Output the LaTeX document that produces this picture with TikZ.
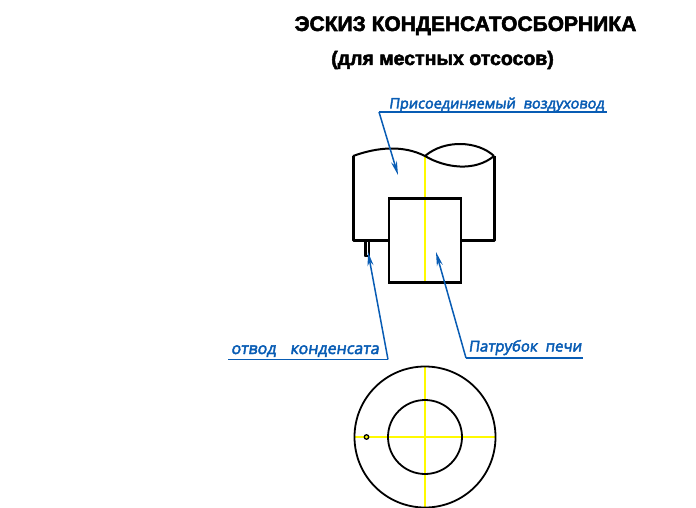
\documentclass[tikz,border=0pt]{standalone}
\usepackage{fontspec}
\setmainfont{Liberation Sans}
\newfontfamily\notefont[FakeBold=3,FakeSlant=0.14]{Open Sans}
\newfontfamily\headfont[FakeBold=2.5]{Liberation Sans Bold}
\usetikzlibrary{arrows.meta}
\definecolor{noteblue}{RGB}{8,92,180}
\definecolor{axisyellow}{RGB}{255,250,0}
\newcommand{\notegap}{\hspace{8pt}}
\tikzset{
    body/.style={draw=black,line width=2pt,line join=round},
    thick body/.style={draw=black,line width=3pt,line join=round},
    axis line/.style={draw=axisyellow,line width=1.3pt},
    leader/.style={draw=noteblue,line width=1.5pt},
    pointer/.style={draw=noteblue,line width=1.5pt,-{Stealth[open,length=14pt,width=6pt]}},
    note/.style={text=noteblue,font=\notefont\fontsize{14.5}{16}\selectfont,inner sep=0pt,anchor=base},
    heading/.style={text=black,font=\headfont\fontsize{21}{23}\selectfont,inner sep=0pt,anchor=base}
}
\begin{document}
\begin{tikzpicture}[x=1pt,y=-1pt]
    \useasboundingbox (0,0) rectangle (696,508);

    \node[heading] (title) at (465.5,31) {ЭСКИЗ КОНДЕНСАТОСБОРНИКА};
    \node[heading,font=\headfont\fontsize{19.5}{21}\selectfont] (subtitle) at (442.5,65) {(для местных отсосов)};

    % axes
    \draw[axis line] (425,156) -- (425,283);
    \draw[axis line] (425,367) -- (425,507);
    \draw[axis line] (354,437) -- (495,437);

    % duct
    \coordinate (ductTL) at (353,156);
    \coordinate (ductTR) at (494,156);
    \coordinate (ductM) at (425,156);
    \draw[thick body] (ductTL) -- (353,240.5) -- (388,240.5);
    \draw[thick body] (461,240.5) -- (494,240.5) -- (ductTR);
    \draw[body] (ductTL) .. controls (378,147) and (403,145) .. (ductM);
    \draw[body] (ductM) .. controls (445,168) and (475,172) .. (ductTR);
    \draw[body] (ductM) .. controls (445,139) and (478,141) .. (ductTR);

    % nozzle
    \node (nozzle) at (425,240.5) [draw=black,line width=2.6pt,minimum width=72pt,minimum height=84.5pt,inner sep=0pt] {};

    % drain
    \draw[thick body,line cap=round] (365,241) -- (365,255.5);
    \draw[body,line cap=round] (365,255.5) -- (368.5,255.5) -- (368.5,241);

    % plan
    \node (outer) at (425,437) [circle,draw=black,line width=1.8pt,minimum size=141pt,inner sep=0pt] {};
    \node (inner) at (425,437) [circle,draw=black,line width=1.8pt,minimum size=74pt,inner sep=0pt] {};
    \node (hole) at (366.5,437) [circle,draw=black,line width=1.3pt,minimum size=4.5pt,inner sep=0pt] {};

    % notes
    \node[note] (ductnote) at (496.5,108.5) {Присоединяемый\notegap воздуховод};
    \node[note,font=\notefont\fontsize{16}{18}\selectfont] (drainnote) at (305,354) {отвод\hspace{10pt} конденсата};
    \node[note,font=\notefont\fontsize{15}{17}\selectfont] (nozzlenote) at (525,351.5) {Патрубок\notegap печи};

    \coordinate (ductA) at (379,112);
    \coordinate (ductB) at (607,112);
    \coordinate (ductTip) at (398,175);
    \coordinate (drainA) at (228,359.5);
    \coordinate (drainB) at (388,359.5);
    \coordinate (drainTip) at (368,252);
    \coordinate (nozzleA) at (466,358);
    \coordinate (nozzleB) at (583,358);
    \coordinate (nozzleTip) at (436,252);

    \draw[leader] (ductA) -- (ductB);
    \draw[pointer] (ductA) -- (ductTip);
    \draw[leader] (drainA) -- (drainB);
    \draw[pointer] (drainB) -- (drainTip);
    \draw[leader] (nozzleA) -- (nozzleB);
    \draw[pointer] (nozzleA) -- (nozzleTip);
\end{tikzpicture}
\end{document}
